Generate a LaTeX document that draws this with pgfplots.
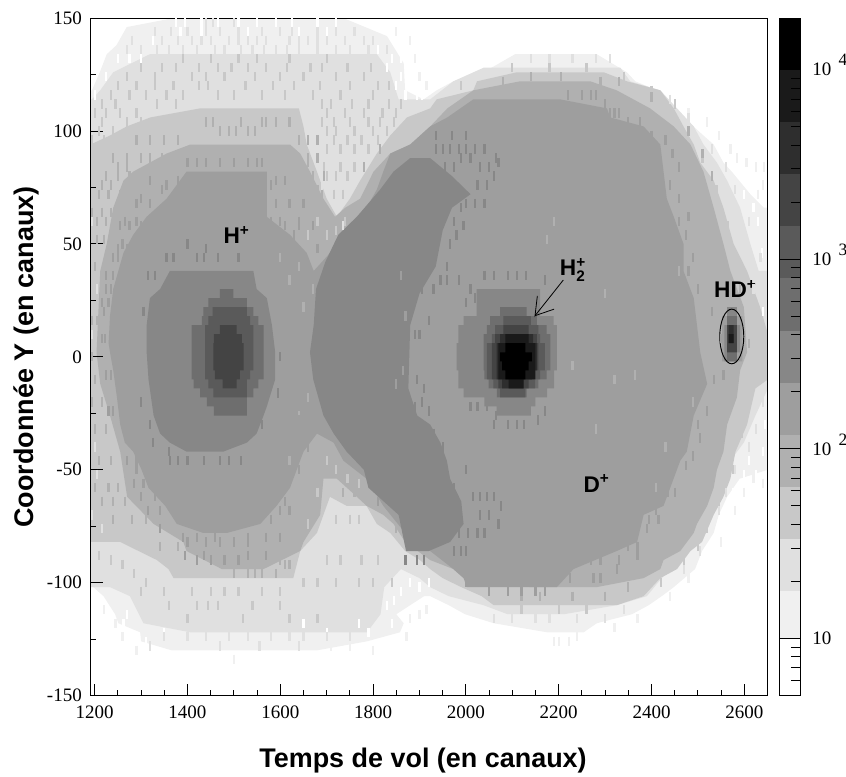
\documentclass[border=0pt]{standalone}
\usepackage{fontspec}
\setmainfont{Liberation Serif}
\newfontfamily\sansb{Liberation Sans}[BoldFont={Liberation Sans Bold}]
\usepackage{pgfplots}
\pgfplotsset{compat=1.18}
\definecolor{gF}{HTML}{F0F0F0}
\definecolor{gE}{HTML}{E0E0E0}
\definecolor{gC}{HTML}{C8C8C8}
\definecolor{gB}{HTML}{B0B0B0}
\definecolor{g9}{HTML}{9E9E9E}
\definecolor{g8}{HTML}{878787}
\definecolor{g6}{HTML}{6E6E6E}
\definecolor{g5}{HTML}{5A5A5A}
\definecolor{g4}{HTML}{444444}
\definecolor{g2}{HTML}{2E2E2E}
\definecolor{g1}{HTML}{1A1A1A}
\definecolor{g0}{HTML}{000000}
\pgfplotsset{
 lay/.style={const plot, fill=#1, draw=none, mark=none, forget plot},
 big/.style={fill=#1, draw=none, mark=none, forget plot},
 sp/.style={only marks, mark=|, mark size=3.5pt, color=#1, mark options={line width=1.7pt,draw=#1}, forget plot},
}
\newcommand{\plusup}{\raisebox{6.5pt}{\fontsize{11.5}{11.5}\selectfont +}}
\newcommand{\lab}[1]{\fontsize{17}{17}\selectfont\sansb\bfseries #1}
\begin{document}
\begin{tikzpicture}
\path[use as bounding box] (-67.875pt,-61.1pt) rectangle (566.625pt,521.65pt);
\begin{axis}[
 at={(0pt,0pt)}, anchor=south west, scale only axis, width=507.75pt, height=508.1pt,
 xmin=1191, xmax=2650, ymin=-150, ymax=150,
 axis on top, tick align=inside, xtick pos=bottom, ytick pos=left,
 xtick={1200,1400,1600,1800,2000,2200,2400,2600},
 xticklabels={1200,1400,1600,1800,2000,2200,2400,2600},
 ytick={-150,-100,-50,0,50,100,150},
 yticklabels={-150,-100,-50,0,50,100,150},
 minor x tick num=3, minor y tick num=1,
 major tick length=9pt, minor tick length=4.5pt,
 axis line style={line width=0.75pt},
 tick style={black,line width=0.7pt},
 tick label style={font=\fontsize{14.25}{14.25}\selectfont},
 xticklabel style={yshift=-4pt},
 yticklabel style={xshift=-3pt},
]
% F0 outer
\addplot[big=gF] coordinates {(1370,150)(1736,150)(1830,142)(1866,130)(1869,118)(1909,114)(1937,118)(1973,122)(2038,126)(2106,134)(2282,134)(2347,126)(2365,122)(2412,118)(2448,110)(2469,106)(2512,98)(2534,94)(2555,86)(2573,82)(2613,72)(2642,66)(2651,66)(2651,-50)(2590,-54)(2563,-62)(2545,-70)(2534,-78)(2509,-86)(2494,-94)(2448,-102)(2422,-106)(2394,-110)(2358,-114)(2282,-118)(2254,-122)(2175,-122)(2060,-118)(1998,-114)(1963,-110)(1923,-106)(1910,-106)(1850,-114)(1866,-118)(1858,-122)(1787,-126)(1679,-130)(1366,-130)(1300,-126)(1298,-122)(1251,-118)(1244,-114)(1219,-106)(1197,-102)(1191,-102)(1191,118)(1194,118)(1211,126)(1226,134)(1247,138)(1269,146)(1370,150)};
% E0
\addplot[big=gE] coordinates {(1319,134)(1808,134)(1837,126)(1855,114)(1923,114)(1973,122)(2038,128)(2333,128)(2354,122)(2419,118)(2455,110)(2491,102)(2512,94)(2541,86)(2563,78)(2591,66)(2613,50)(2631,38)(2651,38)(2651,-14)(2624,-26)(2599,-38)(2570,-46)(2555,-54)(2541,-62)(2520,-70)(2491,-82)(2462,-90)(2422,-98)(2390,-106)(2325,-110)(2211,-114)(2090,-114)(2038,-110)(1963,-106)(1923,-102)(1900,-98)(1860,-94)(1824,-102)(1816,-114)(1787,-122)(1406,-122)(1305,-118)(1276,-106)(1233,-102)(1191,-102)(1191,114)(1194,114)(1212,118)(1240,126)(1319,134)};
% C8
\addplot[big=gC] coordinates {(1191,94)(1233,98)(1269,102)(1320,106)(1427,110)(1640,110)(1650,102)(1657,94)(1679,82)(1700,70)(1722,62)(1750,70)(1772,78)(1808,90)(1837,98)(1873,106)(1923,110)(1937,114)(2016,118)(2024,122)(2110,126)(2297,126)(2347,122)(2419,118)(2448,110)(2469,102)(2491,94)(2505,86)(2534,78)(2555,66)(2577,50)(2606,38)(2634,22)(2651,10)(2651,-10)(2624,-14)(2606,-30)(2581,-42)(2570,-54)(2555,-62)(2534,-70)(2509,-82)(2484,-86)(2455,-94)(2419,-98)(2383,-106)(2325,-110)(2060,-110)(2034,-106)(1990,-102)(1950,-98)(1923,-94)(1901,-90)(1869,-86)(1837,-78)(1808,-74)(1786,-66)(1743,-66)(1707,-62)(1693,-70)(1679,-78)(1643,-86)(1628,-98)(1370,-98)(1359,-94)(1334,-90)(1255,-82)(1191,-82)(1191,94)};
% B0
\addplot[big=gB] coordinates {(1355,90)(1406,94)(1621,94)(1643,90)(1664,82)(1693,70)(1718,62)(1740,66)(1772,70)(1801,82)(1837,90)(1880,94)(1923,102)(1960,110)(2016,118)(2117,122)(2268,122)(2325,118)(2397,110)(2448,102)(2484,94)(2512,82)(2534,66)(2555,50)(2570,38)(2599,22)(2606,2)(2591,-6)(2584,-18)(2563,-30)(2555,-42)(2541,-50)(2534,-58)(2520,-66)(2498,-74)(2491,-78)(2462,-86)(2426,-90)(2419,-94)(2383,-98)(2282,-102)(2139,-102)(1995,-98)(1973,-94)(1923,-90)(1869,-82)(1844,-74)(1822,-70)(1786,-66)(1765,-62)(1722,-54)(1693,-54)(1686,-70)(1650,-82)(1643,-86)(1564,-94)(1474,-94)(1398,-86)(1391,-82)(1327,-74)(1270,-62)(1255,-42)(1233,-26)(1212,-12)(1204,2)(1212,38)(1226,50)(1240,66)(1262,78)(1283,82)(1355,90)};
% 9E
\addplot[big=g9] coordinates {(1398,82)(1571,82)(1571,62)(1621,54)(1657,46)(1672,38)(1725,50)(1747,58)(1765,62)(1786,66)(1808,74)(1822,82)(1837,90)(1880,94)(1923,102)(1960,106)(2016,114)(2203,114)(2304,110)(2311,106)(2383,102)(2419,94)(2426,82)(2433,70)(2448,62)(2469,50)(2469,38)(2491,26)(2505,2)(2520,-12)(2491,-26)(2476,-42)(2462,-46)(2426,-66)(2383,-70)(2369,-82)(2325,-86)(2232,-94)(2196,-102)(2002,-102)(1995,-98)(1973,-94)(1923,-86)(1880,-82)(1869,-78)(1822,-66)(1786,-54)(1736,-46)(1715,-38)(1679,-34)(1650,-42)(1621,-58)(1592,-66)(1557,-74)(1485,-78)(1434,-78)(1377,-74)(1352,-66)(1316,-58)(1301,-50)(1283,-42)(1265,-38)(1255,-30)(1248,-18)(1240,-6)(1233,2)(1230,6)(1233,18)(1240,30)(1251,38)(1262,46)(1283,54)(1312,62)(1355,70)(1398,82)};
% 87 crescent
\addplot[big=g8] coordinates {(1871,-86)(1855,-70)(1790,-58)(1780,-50)(1743,-42)(1715,-34)(1693,-26)(1671,-10)(1664,2)(1672,14)(1677,30)(1697,42)(1725,54)(1765,62)(1815,74)(1844,82)(1880,88)(1923,88)(1970,80)(2010,72)(1970,66)(1950,56)(1935,40)(1900,28)(1880,14)(1876,-14)(1895,-26)(1923,-30)(1945,-38)(1959,-46)(1966,-54)(1990,-64)(1995,-74)(1966,-82)(1920,-86)(1871,-86)};
% 87 H+
\addplot[big=g8] coordinates {(1362,38)(1542,38)(1549,30)(1571,26)(1582,14)(1589,2)(1589,-10)(1571,-22)(1564,-26)(1549,-34)(1528,-38)(1477,-42)(1398,-42)(1362,-38)(1341,-34)(1327,-26)(1316,-10)(1312,2)(1312,14)(1319,26)(1341,30)(1362,38)};
% speckle
\addplot[sp=gF] coordinates {(1272,144)(1290,136)(1240,130)(1850,144)(1880,140)(1890,132)(1900,124)(1915,120)(2480,108)(2520,104)(2545,98)(2570,92)(2585,88)(2605,86)(2625,84)(2642,84)(2630,72)(2640,76)(2600,-60)(2620,-54)(2640,-56)(2580,-68)(2550,-82)(2480,-98)(2440,-106)(2370,-116)(2320,-120)(2240,-124)(2190,-126)(2200,-126)(2222,-126)(1915,-112)(1900,-114)(1880,-116)(1872,-124)(1800,-130)(1750,-128)(1710,-128)(1500,-134)(1290,-130)(1260,-124)(1245,-118)(1220,-112)};
\addplot[sp=white] coordinates {(1375,148)(1395,148)(1430,148)(1465,148)(1510,148)(1550,148)(1590,148)(1625,148)(1680,148)(1720,148)(1385,144)(1430,144)(1530,144)(1640,144)(1700,144)(1300,132)(1325,140)(1810,136)(1830,128)(1850,120)(1250,132)(1275,132)(1840,132)(1860,132)(1225,124)(1860,124)(1885,124)(1200,116)(1870,116)(1895,116)(1905,116)(2630,60)(2638,46)(2620,66)(2600,72)(2625,-52)(2610,-46)(2640,-42)(2600,-52)(2575,-60)(2570,-72)(1650,-118)(1700,-122)(1770,-118)(1830,-110)(1840,-118)(1790,-122)(1350,-122)(1310,-126)(1270,-114)(1262,-118)(1880,-100)(1900,-102)(1860,-104)(1920,-100)(1845,-108)(2640,20)(2645,-30)};
\addplot[sp=gE] coordinates {(1380,140)(1410,140)(1450,140)(1490,140)(1530,140)(1570,140)(1620,140)(1660,140)(1700,140)(1740,140)(1400,144)(1470,144)(1510,144)(1600,144)(1680,144)(1300,136)(1360,136)(1420,136)(1460,136)(1540,136)(1590,136)(1640,136)(1720,136)(1790,136)(1440,148)(1455,148)(1500,148)(1330,144)(1365,144)(1440,144)(1560,144)(1625,144)(1720,144)(1760,144)(1280,140)(1345,140)(1430,140)(1510,140)(1550,140)(1640,140)(1680,140)(1780,140)(1800,140)(1270,136)(1335,136)(1390,136)(1480,136)(1515,136)(1565,136)(1615,136)(1680,136)(1750,136)(1830,136)(1350,-124)(1400,-124)(1440,-124)(1490,-124)(1530,-124)(1580,-124)(1620,-124)(1650,-124)(1700,-124)(1750,-124)(1320,-128)(1470,-128)(1555,-128)(1640,-128)(2060,-116)(2100,-116)(2150,-116)(2180,-116)(2240,-116)(2300,-116)(2340,-112)(2140,132)(2180,132)(2230,132)(2280,132)(2310,132)(2440,114)(2480,106)(2530,92)(2560,84)(2580,74)(2610,60)(2635,44)(2620,30)(2640,-20)(2625,-32)(2610,-40)(2580,-50)(2560,-60)(2545,-68)(2505,-86)(2470,-94)};
\addplot[sp=gC] coordinates {(1390,132)(1450,132)(1510,132)(1550,132)(1620,132)(1700,132)(1300,128)(1345,128)(1375,128)(1425,128)(1465,128)(1495,128)(1530,128)(1570,128)(1615,128)(1665,128)(1690,128)(1745,128)(1795,128)(1270,124)(1330,124)(1410,124)(1440,124)(1480,124)(1545,124)(1600,124)(1650,124)(1720,124)(1780,124)(1250,120)(1290,120)(1330,120)(1370,120)(1425,120)(1445,120)(1525,120)(1585,120)(1630,120)(1685,120)(1750,120)(1810,120)(1835,120)(1235,116)(1275,116)(1310,116)(1355,116)(1390,116)(1465,116)(1500,116)(1560,116)(1610,116)(1670,116)(1730,116)(1800,116)(1215,112)(1245,112)(1335,112)(1375,112)(1690,112)(1710,112)(1755,112)(1790,112)(1835,112)(1860,112)(1200,108)(1225,108)(1255,108)(1290,108)(1700,108)(1740,108)(1780,108)(1820,108)(1850,108)(1215,104)(1270,104)(1300,104)(1690,104)(1715,104)(1750,104)(1790,104)(1815,104)(1845,104)(1210,100)(1240,100)(1700,100)(1720,100)(1760,100)(1800,100)(1830,100)(1195,96)(1220,96)(1260,96)(1680,96)(1715,96)(1745,96)(1775,96)(1810,96)(1205,92)(1235,92)(1700,92)(1730,92)(1760,92)(1790,92)(1695,84)(1730,84)(1760,84)(1700,80)(1720,80)(1745,80)(1715,72)(1735,72)(1720,-72)(1750,-72)(1770,-72)(1700,-90)(1730,-90)(1775,-90)(1810,-90)(1650,-100)(1680,-100)(1720,-100)(1770,-100)(1800,-100)(1840,-100)(1300,-104)(1350,-104)(1410,-104)(1450,-104)(1480,-104)(1510,-104)(1560,-104)(1600,-104)(1360,-110)(1420,-110)(1445,-110)(1465,-110)(1540,-110)(1600,-110)(1400,-116)(1520,-116)(1620,-116)(1680,-116)(1235,-90)(1260,-92)(1285,-96)(1310,-100)(1210,-88)(2620,4)(2640,0)(2615,16)(2590,36)(2565,58)(2540,74)(2510,88)(2450,112)(2400,118)(2340,124)(2260,128)(2180,128)(2100,128)(1990,120)(2420,-100)(2470,-90)(2500,-84)(2520,-76)(2545,-64)(2575,-50)(2595,-34)(2120,-112)(2200,-112)(2260,-112)};
\addplot[sp=gE] coordinates {(1195,60)(1200,40)(1195,10)(1200,-40)(1205,-52)(1195,-70)(1215,-76)(1205,30)(1675,90)(1690,76)(1735,58)(1660,-92)(1700,-76)(1755,-70)};
\addplot[sp=gB] coordinates {(1470,100)(1490,100)(1505,100)(1530,100)(1545,100)(1440,104)(1570,104)(1455,104)(1515,104)(1560,104)(1590,104)(1620,104)(1290,96)(1320,96)(1350,96)(1380,96)(1640,96)(1660,96)(1680,96)(1240,88)(1270,88)(1320,88)(1345,88)(1660,88)(1680,88)(1250,84)(1270,84)(1300,88)(1225,80)(1250,80)(1275,80)(1670,80)(1695,80)(1215,76)(1235,76)(1210,72)(1230,72)(1255,72)(1690,72)(1195,64)(1215,64)(1235,64)(1700,64)(1205,60)(1225,60)(1205,52)(1220,52)(1200,40)(1195,16)(1205,16)(1195,0)(1200,-10)(1195,-20)(1215,-20)(1200,-32)(1225,-32)(1235,-46)(1210,-46)(1200,-58)(1230,-58)(1250,-58)(1215,-64)(1240,-64)(1265,-64)(1240,-72)(1280,-72)(1310,-72)(1340,-84)(1380,-84)(1610,-84)(1630,-84)(1610,-92)(1620,-92)(1500,-96)(1530,-96)(1560,-96)(1590,-96)(1545,-96)(1600,-90)(2590,30)(2610,6)(2530,80)(2510,90)(2480,100)(2400,115)(2330,122)(2290,122)(2205,124)(2140,124)(2080,122)(2120,-106)(2160,-106)(2230,-106)(2300,-106)(2350,-102)(1680,74)(1660,86)(1750,62)(1780,84)(1815,92)(1850,-76)(1790,-62)(1760,-60)(1735,-60)};
\addplot[sp=gC] coordinates {(1680,60)(1660,54)(1700,54)(1720,56)(1740,60)(1700,-46)(1720,-50)(1745,-54)(1770,-56)(1660,-74)(1680,-60)};
\addplot[sp=g9] coordinates {(1355,76)(1420,86)(1470,86)(1560,86)(1580,76)(1400,86)(1440,86)(1500,86)(1530,86)(1550,86)(1320,78)(1380,78)(1590,78)(1610,78)(1290,68)(1320,68)(1590,68)(1620,68)(1650,68)(1300,70)(1345,74)(1255,58)(1275,58)(1300,58)(1610,58)(1640,58)(1670,58)(1265,60)(1290,60)(1580,60)(1600,60)(1640,60)(1260,50)(1280,50)(1600,54)(1630,54)(1250,48)(1270,48)(1630,48)(1680,48)(1240,44)(1250,44)(1225,36)(1240,36)(1660,36)(1225,30)(1235,30)(1215,24)(1230,24)(1220,20)(1215,8)(1222,8)(1225,-8)(1235,-8)(1230,-24)(1240,-24)(1270,-46)(1290,-46)(1285,-56)(1305,-56)(1290,-50)(1300,-62)(1330,-62)(1315,-68)(1340,-68)(1600,-68)(1620,-68)(1340,-76)(1390,-80)(1420,-80)(1460,-80)(1530,-80)(1570,-80)(1600,-80)(1400,-82)(1440,-82)(1470,-82)(1500,-82)(1530,-82)(1580,-72)(1395,-88)(1435,-88)(1530,-88)(1570,-88)(1420,-90)(1450,-90)(1480,-90)(1510,-90)(1610,-64)(1640,-50)(1660,-40)(2220,116)(2250,116)(2270,116)(2280,116)(2300,112)(2310,108)(2320,108)(2330,108)(2350,104)(2375,104)(2400,98)(2430,96)(2445,90)(2460,84)(2440,76)(2460,70)(2480,62)(2460,60)(2475,54)(2490,44)(2480,38)(2500,30)(2530,20)(2550,8)(2535,-10)(2555,-8)(2500,-30)(2520,-24)(2490,-44)(2505,-36)(2435,-60)(2450,-60)(2475,-48)(2395,-72)(2415,-72)(2370,-84)(2390,-76)(2410,-68)(2250,-90)(2270,-90)(2290,-90)(2330,-90)(2350,-84)(2225,-98)(2275,-98)(2290,-98)(2325,-94)(2370,-88)(2000,-100)(2020,-100)(2050,-104)(2090,-104)(2120,-104)(2150,-104)(2170,-104)};
\addplot[sp=gB] coordinates {(2300,28)(2320,-10)(2280,-32)(2365,-8)(2460,38)(2510,10)(2490,-20)(2230,-4)(2175,52)(2190,60)(1640,40)(1670,30)(1650,22)(1620,34)(1600,44)(1640,-26)(1660,-18)(1620,-46)(2410,-58)(2430,-40)};
\addplot[sp=g8] coordinates {(1935,92)(1950,92)(1965,92)(1985,92)(2000,92)(2020,92)(2040,92)(1935,98)(1970,98)(2000,98)(1930,84)(1955,84)(1975,84)(1990,88)(2010,88)(2030,84)(2050,84)(2065,88)(2025,76)(2045,76)(2060,80)(2070,86)(2020,68)(2040,68)(1975,60)(1990,66)(2000,68)(1965,50)(1980,54)(1995,58)(1960,40)(1945,34)(1960,34)(1985,34)(2010,30)(1355,44)(1370,44)(1420,44)(1435,44)(1465,44)(1510,44)(1400,50)(1440,48)(1315,36)(1330,36)(1305,20)(1300,-20)(1320,-30)(1325,-38)(1362,-46)(1380,-46)(1400,-46)(1435,-46)(1470,-46)(1490,-46)(1515,-46)(1360,-42)(1560,-30)(1595,-16)(1600,0)(2040,36)(2060,36)(2090,36)(2110,36)(2130,36)(2170,34)(2010,-22)(2025,-22)(2045,-22)(2065,-26)(2155,-28)(2170,-24)(2060,-30)(2090,-30)(2110,-30)(2125,-30)(1930,-34)(1870,-90)(1895,-90)(1910,-90)(1975,-86)(1990,-86)(2000,-86)(2015,-62)(2030,-62)(2045,-62)(2060,-62)(2075,-66)(2030,-70)(2050,-70)(2070,-74)(1985,-78)(2005,-78)(2025,-78)(2040,-78)(1890,10)(1900,10)(1895,-10)(1910,-14)(1930,30)(1950,-40)(1975,-58)(2000,-50)(2000,24)(2020,26)(1905,30)(1920,16)(1890,-22)(1905,-20)(1920,-24)};
\addplot[sp=g9] coordinates {(1890,-2)(1895,6)(1870,18)(1865,-6)(1850,-12)(1860,36)(1810,-64)(1640,-28)};
% H+ core
\addplot[lay=g6] coordinates {(1470,30)(1499,26)(1528,22)(1542,18)(1553,14)(1564,-10)(1553,-14)(1542,-18)(1528,-26)(1457,-26)(1457,-22)(1442,-18)(1427,-14)(1413,-10)(1409,14)(1431,18)(1434,22)(1445,26)(1470,30)};
\addplot[lay=g5] coordinates {(1454,22)(1528,18)(1535,14)(1542,-6)(1535,-10)(1528,-18)(1456,-18)(1456,-14)(1445,-10)(1438,14)(1445,18)(1454,22)};
\addplot[lay=g4] coordinates {(1470,14)(1506,10)(1517,6)(1521,-6)(1513,-10)(1506,-14)(1476,-14)(1476,-10)(1459,-6)(1456,6)(1457,10)(1470,14)};
% H2+ core
\addplot[lay=g8] coordinates {(2023,30)(2160,18)(2189,14)(2196,6)(2196,-6)(2190,-14)(2175,-18)(2150,-22)(2140,-26)(2095,-26)(2066,-22)(2040,-18)(1995,-14)(1984,-6)(1980,6)(1984,14)(1995,18)(2023,30)};
\addplot[lay=g6] coordinates {(2074,22)(2131,18)(2153,14)(2174,10)(2182,-6)(2174,-10)(2156,-14)(2131,-18)(2092,-18)(2067,-14)(2049,-10)(2040,-6)(2038,10)(2045,14)(2052,18)(2074,22)};
\addplot[lay=g5] coordinates {(2081,18)(2140,14)(2156,10)(2160,6)(2170,-6)(2160,-10)(2149,-14)(2128,-18)(2092,-18)(2074,-14)(2059,-10)(2045,-6)(2045,6)(2056,10)(2063,14)(2081,18)};
\addplot[lay=g4] coordinates {(2081,14)(2135,10)(2153,6)(2156,-6)(2146,-10)(2135,-14)(2085,-14)(2070,-10)(2056,-6)(2056,6)(2063,10)(2081,14)};
\addplot[lay=g2] coordinates {(2074,10)(2145,6)(2153,-6)(2142,-10)(2125,-14)(2092,-14)(2078,-10)(2066,-6)(2066,6)(2074,10)};
\addplot[lay=g1] coordinates {(2085,10)(2135,6)(2150,-10)(2124,-14)(2092,-14)(2092,-10)(2070,6)(2085,10)};
\addplot[lay=g0] coordinates {(2085,6)(2128,2)(2142,-2)(2135,-6)(2128,-10)(2092,-10)(2085,-6)(2078,-2)(2074,2)(2085,6)};
% HD+ core
\addplot[lay=g9] coordinates {(2552,18)(2596,-2)(2552,-2)(2552,18)};
\addplot[lay=g8] coordinates {(2563,22)(2584,14)(2591,2)(2584,-2)(2563,-2)(2557,2)(2557,14)(2563,22)};
\addplot[lay=g6] coordinates {(2563,18)(2584,-2)(2563,-2)(2563,18)};
\addplot[lay=g4] coordinates {(2563,14)(2584,2)(2563,2)(2563,14)};
\addplot[lay=g2] coordinates {(2566,14)(2577,6)(2566,6)(2566,14)};
\addplot[lay=g1] coordinates {(2566,10)(2577,6)(2566,6)(2566,10)};
% annotations
\draw[line width=0.7pt] (axis cs:2573,9) ellipse [x radius=25.9, y radius=12.1];
\draw[line width=0.6pt] (axis cs:2210,34) -- (axis cs:2149,18.2) -- (axis cs:2154,27);
\draw[line width=0.6pt] (axis cs:2149,18.2) -- (axis cs:2190,21.1);
\node at (axis cs:1505,54) {\lab{H\plusup}};
\node at (axis cs:2230,38.5) {\lab{H\rlap{\raisebox{-4.5pt}{\fontsize{11.5}{11.5}\selectfont 2}}\plusup}};
\node at (axis cs:2580,30) {\lab{HD\plusup}};
\node at (axis cs:2281,-56) {\lab{D\plusup}};
\end{axis}
\begin{axis}[
 at={(516.75pt,0pt)}, anchor=south west, scale only axis, width=16.1pt, height=508.1pt,
 xmin=0, xmax=1, ymode=log, ymin=5, ymax=18700,
 axis on top, tick align=inside, xtick=\empty, ytick pos=right,
 ytick={10,100,1000,10000},
 yticklabels={10,
  10\smash{\hspace{5.5pt}\raisebox{7.5pt}{\fontsize{13}{13}\selectfont 2}},
  10\smash{\hspace{5.5pt}\raisebox{7.5pt}{\fontsize{13}{13}\selectfont 3}},
  10\smash{\hspace{5.5pt}\raisebox{7.5pt}{\fontsize{13}{13}\selectfont 4}}},
 minor ytick={6,7,8,9,20,30,40,50,60,70,80,90,200,300,400,500,600,700,800,900,2000,3000,4000,5000,6000,7000,8000,9000},
 major tick length=16.1pt, minor tick length=7.5pt,
 axis line style={line width=0.75pt},
 tick style={black,line width=0.7pt},
 yticklabel style={anchor=west, font=\fontsize{14.25}{14.25}\selectfont, xshift=5pt},
]
\addplot[fill=g0,draw=none,forget plot] coordinates {(0,18700)(1,18700)(1,9930)(0,9930)};
\addplot[fill=g1,draw=none,forget plot] coordinates {(0,9930)(1,9930)(1,5285)(0,5285)};
\addplot[fill=g2,draw=none,forget plot] coordinates {(0,5285)(1,5285)(1,2810)(0,2810)};
\addplot[fill=g4,draw=none,forget plot] coordinates {(0,2810)(1,2810)(1,1493)(0,1493)};
\addplot[fill=g5,draw=none,forget plot] coordinates {(0,1493)(1,1493)(1,794)(0,794)};
\addplot[fill=g6,draw=none,forget plot] coordinates {(0,794)(1,794)(1,417)(0,417)};
\addplot[fill=g8,draw=none,forget plot] coordinates {(0,417)(1,417)(1,222)(0,222)};
\addplot[fill=g9,draw=none,forget plot] coordinates {(0,222)(1,222)(1,118)(0,118)};
\addplot[fill=gB,draw=none,forget plot] coordinates {(0,118)(1,118)(1,62.7)(0,62.7)};
\addplot[fill=gC,draw=none,forget plot] coordinates {(0,62.7)(1,62.7)(1,33.3)(0,33.3)};
\addplot[fill=gE,draw=none,forget plot] coordinates {(0,33.3)(1,33.3)(1,17.7)(0,17.7)};
\addplot[fill=gF,draw=none,forget plot] coordinates {(0,17.7)(1,17.7)(1,10)(0,10)};
\end{axis}
\node[font=\fontsize{20.2}{20.2}\selectfont\sansb\bfseries] at (249.4pt,-48.4pt) {Temps de vol (en canaux)};
\node[font=\fontsize{20.2}{20.2}\selectfont\sansb\bfseries,rotate=90] at (-48.4pt,254pt) {Coordonnée Y (en canaux)};
\end{tikzpicture}
\end{document}
